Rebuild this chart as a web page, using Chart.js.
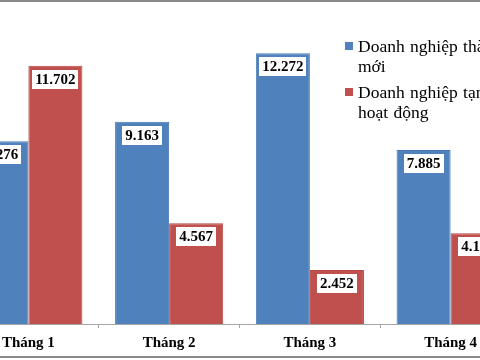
<!DOCTYPE html>
<html>
<head>
<meta charset="utf-8">
<script src="https://cdn.jsdelivr.net/npm/chart.js@4/dist/chart.umd.min.js"></script>
<style>
  html, body { margin:0; padding:0; width:480px; height:360px; overflow:hidden; background:#fff; }
  #wrap { position:absolute; left:-42px; top:0; width:563px; height:360px; }
  .frame { position:absolute; left:0; width:480px; height:2px; background:#8a8a8a; }
  .lg { position:absolute; left:345px; font-family:"Liberation Serif", serif; font-size:17.5px; line-height:20px; color:#000; white-space:nowrap; }
  .lg .sw { position:absolute; left:0; top:6px; width:8px; height:8px; }
  .lg .tx { position:absolute; left:13px; top:0; word-spacing:1px; }
</style>
</head>
<body>
<div class="frame" style="top:0;"></div>
<div class="frame" style="top:356px;"></div>
<div id="wrap"><canvas id="c" width="563" height="360"></canvas></div>
<div id="legend"></div>
<script>
const categories = ["Tháng 1", "Tháng 2", "Tháng 3", "Tháng 4"];
const seriesNames = ["Doanh nghiệp thành lập mới", "Doanh nghiệp tạm ngừng hoạt động"];
const legendLines = [["Doanh nghiệp thành lập", "mới"], ["Doanh nghiệp tạm ngừng", "hoạt động"]];
const newFirms = [8276, 9163, 12272, 7885];
const pausedFirms = [11702, 4567, 2452, 4117];
const colors = ["#4F81BD", "#C0504D"];
const borderColors = ["#4A79B2", "#B54A47"];

function fmt(v) {
  return String(v).replace(/\B(?=(\d{3})+(?!\d))/g, ".");
}

const labelPlugin = {
  id: "valueBoxes",
  afterDatasetsDraw(chart) {
    const ctx = chart.ctx;
    ctx.save();
    ctx.font = "bold 15px 'Liberation Serif'";
    ctx.textAlign = "center";
    ctx.textBaseline = "middle";
    chart.data.datasets.forEach((ds, i) => {
      chart.getDatasetMeta(i).data.forEach((bar, j) => {
        const txt = fmt(ds.data[j]);
        const w = ctx.measureText(txt).width + 6;
        const top = bar.y + 4;
        ctx.fillStyle = "#fff";
        ctx.fillRect(Math.round(bar.x - w / 2), Math.round(top), Math.round(w), 19);
        ctx.fillStyle = "#000";
        ctx.fillText(txt, bar.x, top + 10);
      });
    });
    ctx.restore();
  }
};

new Chart(document.getElementById("c"), {
  type: "bar",
  data: {
    labels: categories,
    datasets: [
      { label: seriesNames[0], data: newFirms, backgroundColor: colors[0], borderColor: borderColors[0], borderWidth: 1 },
      { label: seriesNames[1], data: pausedFirms, backgroundColor: colors[1], borderColor: borderColors[1], borderWidth: 1 }
    ]
  },
  options: {
    responsive: false,
    devicePixelRatio: 1,
    animation: false,
    layout: { padding: { top: 15, left: 0, right: 0, bottom: 0 } },
    plugins: { legend: { display: false }, tooltip: { enabled: false } },
    datasets: { bar: { categoryPercentage: 0.768, barPercentage: 1.0 } },
    scales: {
      x: {
        grid: { display: true, drawOnChartArea: false, drawTicks: true, tickLength: 4, color: "#a6a6a6", offset: true },
        border: { display: true, color: "#a6a6a6", width: 1 },
        ticks: { color: "#000", padding: 6, font: { family: "Liberation Serif", size: 15, weight: "bold" } },
        afterFit(scale) { scale.height = 36; }
      },
      y: { display: false, min: 0, max: 14000 }
    }
  },
  plugins: [labelPlugin]
});

const legend = document.getElementById("legend");
const legendTops = [36, 82];
legendLines.forEach((lines, i) => {
  const d = document.createElement("div");
  d.className = "lg";
  d.style.top = legendTops[i] + "px";
  const sw = document.createElement("div");
  sw.className = "sw";
  sw.style.background = colors[i];
  const tx = document.createElement("div");
  tx.className = "tx";
  tx.innerHTML = lines.join("<br>");
  d.appendChild(sw);
  d.appendChild(tx);
  legend.appendChild(d);
});
</script>
</body>
</html>
